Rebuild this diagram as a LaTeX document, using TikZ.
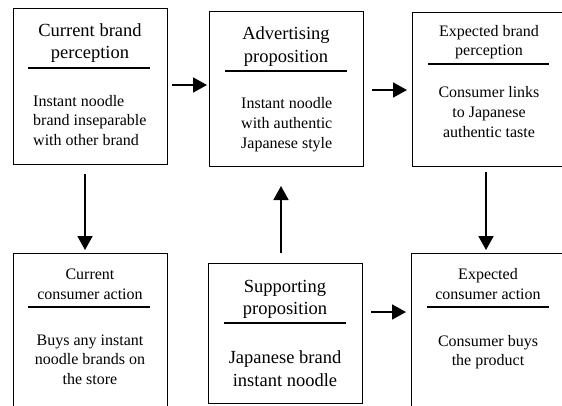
\documentclass[tikz,border=0pt]{standalone}
\usepackage{fontspec}
\setmainfont{Liberation Serif}
\usetikzlibrary{arrows.meta}
\begin{document}
\begin{tikzpicture}[x=1pt,y=-1pt,
  box/.style={draw, line width=0.8pt, inner sep=0pt, outer sep=0pt, minimum width=154pt},
  rulel/.style={line width=1.8pt},
  arr/.style={line width=1.8pt, -{Triangle[length=14pt,width=15pt]}},
  bigc/.style={font=\fontsize{18.5}{22.5}\selectfont, align=center, anchor=base, inner sep=0pt},
  smc/.style={font=\fontsize{16}{19.7}\selectfont, align=center, anchor=base, inner sep=0pt},
  sml/.style={font=\fontsize{16}{19.7}\selectfont, align=left, anchor=base west, inner sep=0pt}]
\useasboundingbox (0,0) rectangle (562,405);
\clip (0,0) rectangle (562,405);
% boxes
\node[box, minimum height=156pt] (b1) at (90,86) {};
\node[box, minimum height=155pt] (b2) at (286,88.5) {};
\node[box, minimum height=154pt] (b3) at (489,89) {};
\node[box, minimum height=159pt] (b4) at (90,332.5) {};
\node[box, minimum height=140pt] (b5) at (285,333) {};
\node[box, minimum height=159pt] (b6) at (488,332.5) {};
% rules
\draw[rulel] (28,68) -- (150,68);
\draw[rulel] (225,71) -- (347,71);
\draw[rulel] (428,64) -- (549,64);
\draw[rulel] (28,307) -- (150,307);
\draw[rulel] (224,323) -- (346,323);
\draw[rulel] (427,307) -- (549,307);
% texts (positioned at baseline of last line)
\node[bigc] (t1) at (90,58.5) {Current brand\\perception};
\node[sml] (d1) at (33,145.4) {Instant noodle\\brand inseparable\\with other brand};
\node[bigc, font=\fontsize{18.5}{23}\selectfont] (t2) at (286,62) {Advertising\\proposition};
\node[sml, font=\fontsize{16}{20}\selectfont] (d2) at (241,148) {Instant noodle\\with authentic\\Japanese style};
\node[smc, font=\fontsize{16}{19}\selectfont] (t3) at (489,55) {Expected brand\\perception};
\node[smc, font=\fontsize{16}{20}\selectfont] (d3) at (489,137) {Consumer links\\to Japanese\\authentic taste};
\node[smc, font=\fontsize{16}{20}\selectfont] (t4) at (90,299) {Current\\consumer action};
\node[smc, font=\fontsize{16}{19.5}\selectfont] (d4) at (90,384) {Buys any instant\\noodle brands on\\the store};
\node[bigc, font=\fontsize{18.5}{22}\selectfont] (t5) at (285,314) {Supporting\\proposition};
\node[bigc, font=\fontsize{18.5}{23}\selectfont] (d5) at (285,386) {Japanese brand\\instant noodle};
\node[smc, font=\fontsize{16}{20}\selectfont] (t6) at (488,299) {Expected\\consumer action};
\node[smc, font=\fontsize{16}{19}\selectfont] (d6) at (488,365) {Consumer buys\\the product};
% arrows
\draw[arr, shorten <=5pt, shorten >=2pt] ([yshift=1pt]b1.east) -- ([yshift=1pt]b1.east -| b2.west);
\draw[arr, shorten <=9pt, shorten >=5pt] ([yshift=-1.5pt]b2.east) -- ([yshift=-1.5pt]b2.east -| b3.west);
\draw[arr, shorten <=9pt, shorten >=5pt] ([yshift=21pt]b5.east) -- ([yshift=21pt]b5.east -| b6.west);
\draw[arr, shorten <=10pt, shorten >=20pt] ([xshift=-4pt]b5.north) -- ([xshift=-4pt]b5.north |- b2.south);
\draw[arr, shorten <=10pt, shorten >=3pt] ([xshift=-5pt]b1.south) -- ([xshift=-5pt]b1.south |- b4.north);
\draw[arr, shorten <=6pt, shorten >=3pt] ([xshift=-3pt]b3.south) -- ([xshift=-3pt]b3.south |- b6.north);
\end{tikzpicture}
\end{document}
